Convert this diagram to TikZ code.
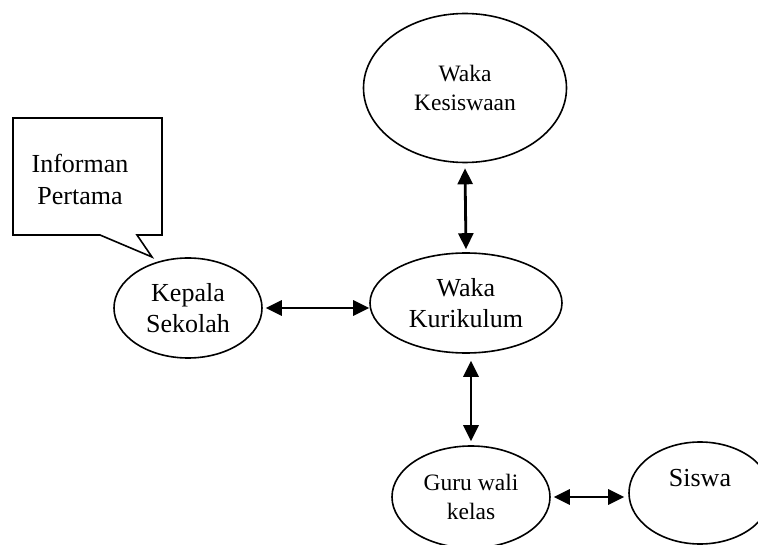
\documentclass[tikz,border=0pt]{standalone}
\usepackage{fontspec}
\setmainfont{Liberation Serif}
\usetikzlibrary{arrows.meta,shapes.geometric}
\tikzset{
  >={Triangle[length=16pt,width=15pt]},
  role/.style={draw,ellipse,line width=1.6pt,inner sep=0pt,align=center,font=\fontsize{26}{31}\selectfont},
  rolesmall/.style={role,font=\fontsize{23.5}{29}\selectfont},
  link/.style={<->,line width=2.8pt},
  callout/.style={draw,line width=1.6pt,fill=white},
  calloutext/.style={align=center,inner sep=0pt,font=\fontsize{26}{32}\selectfont},
}
\begin{document}
\begin{tikzpicture}[x=1pt,y=-1pt]
\useasboundingbox (0,0) rectangle (758,545);
\clip (0,0) rectangle (758,545);
% roles
\node[rolesmall,minimum width=203pt,minimum height=149pt] (kesiswaan) at (465,88) {Waka\\Kesiswaan};
\node[role,minimum width=192pt,minimum height=100pt] (kurikulum) at (466,303) {Waka\\Kurikulum};
\node[role,minimum width=148pt,minimum height=100pt] (kepala) at (188,308) {Kepala\\Sekolah};
\node[rolesmall,minimum width=158pt,minimum height=102pt] (guru) at (471,497) {Guru wali\\kelas};
\node[role,minimum width=142pt,minimum height=102pt] (siswa) at (700,493) {Siswa\\\mbox{}};
% first informant callout
\draw[callout] (13,118) -- (162,118) -- (162,235) -- (137,235) -- (152,257) -- (100,235) -- (13,235) -- cycle;
\node[calloutext] (informan) at (80,179) {Informan\\Pertama};
% links
\draw[link] ([yshift=-5pt]kesiswaan.south) -- ([yshift=3pt]kurikulum.north);
\draw[link] ([xshift=3pt]kepala.east) -- (kepala.east -| kurikulum.west);
\draw[link] ([yshift=4pt]guru.north) -- ([yshift=-7pt]guru.north |- kurikulum.south);
\draw[link] ([xshift=3pt]guru.east) -- ([xshift=-4pt]guru.east -| siswa.west);
\end{tikzpicture}
\end{document}
